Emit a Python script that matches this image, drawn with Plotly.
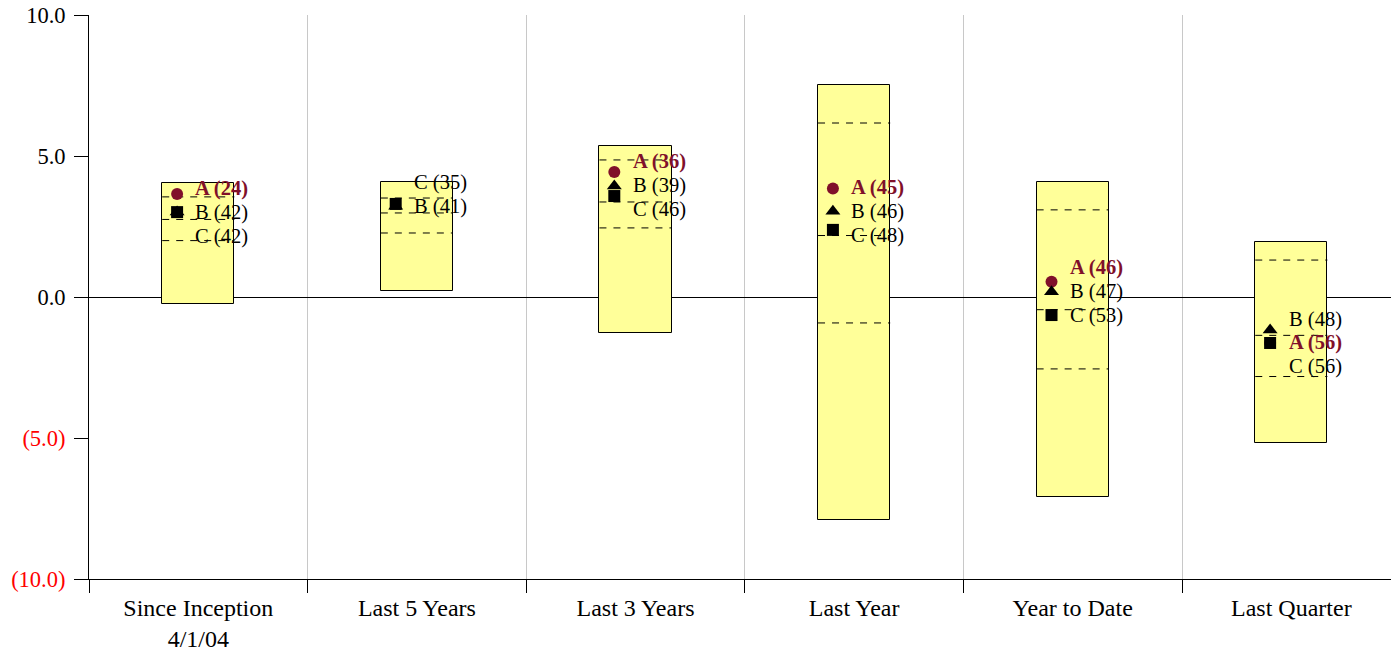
import plotly.graph_objects as go

# periods on the x axis
CATEGORIES = ['Since Inception<br>4/1/04', 'Last 5 Years', 'Last 3 Years',
              'Last Year', 'Year to Date', 'Last Quarter']

# universe percentile bands (top of box = 5th pct, bottom = 95th pct)
P05 = [4.04, 4.08, 5.35, 7.52, 4.08, 1.95]
P25 = [3.55, 3.51, 4.86, 6.17, 3.09, 1.31]
P50 = [2.75, 2.98, 3.37, 2.18, -0.45, -1.36]
P75 = [2.00, 2.27, 2.45, -0.92, -2.55, -2.82]
P95 = [-0.25, 0.21, -1.28, -7.91, -7.09, -5.18]

# the three portfolios: values and percentile ranks
A_VALS = [3.65, None, 4.43, 3.85, 0.54, -1.63]
A_RANKS = [24, None, 36, 45, 46, 56]
B_VALS = [3.01, 3.22, 3.94, 3.04, 0.19, -1.17]
B_RANKS = [42, 41, 39, 46, 47, 48]
C_VALS = [3.01, 3.30, 3.58, 2.38, -0.64, -1.63]
C_RANKS = [42, 35, 46, 48, 53, 56]

Y_TICKS = [10, 5, 0, -5, -10]

DARK_RED = '#80102a'
FONT = 'Liberation Serif, Times New Roman, serif'
BOX_W = 0.33
MARK_DX = -0.097
LABEL_DX = -0.022
LABEL_GAP = 0.85
X_MAX = 5.956  # the last period runs slightly past the right edge

centers = [i + 0.5 for i in range(len(CATEGORIES))]

fig = go.Figure()

# yellow boxes
fig.add_trace(go.Bar(
    x=centers, y=[t - b for t, b in zip(P05, P95)], base=P95, width=BOX_W,
    marker=dict(color='#ffff99', line=dict(color='black', width=1)),
    hoverinfo='skip', showlegend=False))

# dashed quartile lines
for band in (P25, P50, P75):
    xs, ys = [], []
    for c, v in zip(centers, band):
        xs += [c - BOX_W / 2, c + BOX_W / 2, None]
        ys += [v, v, None]
    fig.add_trace(go.Scatter(x=xs, y=ys, mode='lines',
                             line=dict(color='black', width=1, dash='7px,7px'),
                             hoverinfo='skip', showlegend=False))

series = [
    ('A', A_VALS, A_RANKS, 'circle', DARK_RED, 12, True),
    ('B', B_VALS, B_RANKS, 'triangle-up', 'black', 13, False),
    ('C', C_VALS, C_RANKS, 'square', 'black', 12, False),
]

for name, vals, ranks, sym, col, size, bold in series:
    xs = [c + MARK_DX for c, v in zip(centers, vals) if v is not None]
    ys = [v for v in vals if v is not None]
    fig.add_trace(go.Scatter(x=xs, y=ys, mode='markers',
                             marker=dict(symbol=sym, color=col, size=size),
                             hoverinfo='skip', showlegend=False))

# labels: spread vertically around the middle marker of each period
for i, c in enumerate(centers):
    items = []
    for order, (name, vals, ranks, sym, col, size, bold) in enumerate(series):
        if vals[i] is not None:
            items.append((vals[i], order, name, ranks[i], col, bold))
    items.sort(key=lambda t: (-t[0], t[1]))
    n = len(items)
    anchor = items[n // 2][0]
    for k, (v, order, name, rank, col, bold) in enumerate(items):
        text = f'{name} ({rank})'
        if bold:
            text = f'<b>{text}</b>'
        fig.add_annotation(x=c + LABEL_DX, y=anchor + (n // 2 - k) * LABEL_GAP,
                           text=text, showarrow=False, xanchor='left',
                           yanchor='middle',
                           font=dict(family=FONT, size=20.5, color=col))


def fmt(v):
    if v < 0:
        return f'<span style="color:#ff0000">({abs(v):.1f})</span>'
    return f'{v:.1f}'


fig.update_layout(
    width=1391, height=655,
    margin=dict(l=89, r=0, t=15, b=76),
    paper_bgcolor='white', plot_bgcolor='white',
    font=dict(family=FONT, size=22, color='black'),
    bargap=0,
    xaxis=dict(
        range=[0, X_MAX], tickvals=centers, ticktext=CATEGORIES,
        ticks='', showgrid=False, zeroline=False,
        showline=True, linecolor='black', linewidth=1,
        tickfont=dict(size=24),
        ticklabelstandoff=7, automargin=False, ticklabeloverflow='allow',
        minor=dict(tick0=0, dtick=1, ticks='outside', ticklen=13,
                   tickcolor='black', showgrid=True, gridcolor='#c8c8c8',
                   gridwidth=1),
        fixedrange=True),
    yaxis=dict(
        range=[-10, 10], tickvals=Y_TICKS, ticktext=[fmt(v) for v in Y_TICKS],
        ticks='outside', ticklen=14, tickcolor='black',
        showgrid=False, zeroline=True, zerolinecolor='black', zerolinewidth=1,
        showline=True, linecolor='black', linewidth=1,
        tickfont=dict(size=22.5),
        ticklabelstandoff=4, automargin=False, ticklabeloverflow='allow',
        fixedrange=True),
)

# drop the page's default body margin so the figure fills the window
fig.write_html('out.html', config={'displayModeBar': False},
               post_script="document.body.style.margin='0';")
